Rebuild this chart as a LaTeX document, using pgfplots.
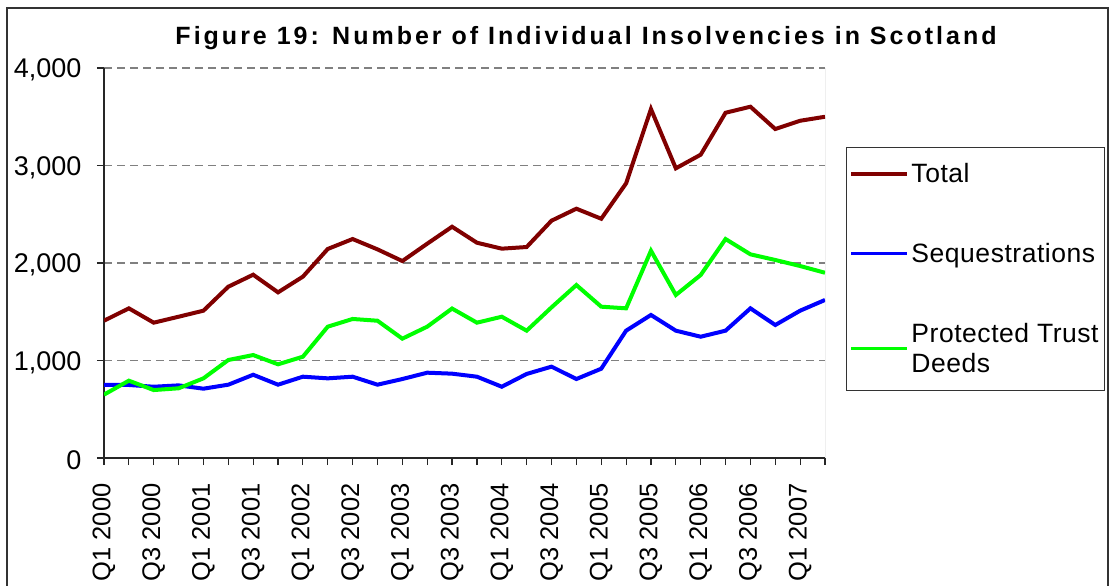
\documentclass[border=0pt]{standalone}
\usepackage{fontspec}
\setmainfont{Liberation Sans}
\newfontfamily\titlefont[LetterSpace=12]{Liberation Sans Bold}
\newfontfamily\legfont[LetterSpace=2]{Liberation Sans}
\usepackage{pgfplots}
\pgfplotsset{compat=1.18}
\definecolor{totred}{RGB}{128,0,0}
\definecolor{seqblue}{RGB}{0,0,255}
\definecolor{ptdgreen}{RGB}{0,255,0}
\definecolor{gridgray}{RGB}{128,128,128}
\begin{document}
\begin{tikzpicture}[x=1pt,y=1pt]
\useasboundingbox (0pt,0pt) rectangle (1111pt,-586pt);
\clip (0pt,0pt) rectangle (1111pt,-586pt);
\draw[line width=1.5pt, black!80] (7pt,-8pt) rectangle (1108pt,-620pt);
\node[anchor=base, inner sep=0pt] at (586pt,-44.5pt) {\fontsize{25}{29}\selectfont\titlefont Figure 19: Number of Individual Insolvencies in Scotland};
\begin{axis}[
  at={(104pt,-458pt)}, anchor=south west,
  scale only axis, width=721pt, height=390pt,
  xmin=0, xmax=29, ymin=0, ymax=4000,
  axis x line*=bottom, axis y line*=left,
  axis line style={-, line width=1.5pt, black!85},
  tick align=outside, major tick length=7pt,
  tick style={line width=1.2pt, black!85},
  xtick={0,...,29},
  xticklabels={Q1 2000,,Q3 2000,,Q1 2001,,Q3 2001,,Q1 2002,,Q3 2002,,Q1 2003,,Q3 2003,,Q1 2004,,Q3 2004,,Q1 2005,,Q3 2005,,Q1 2006,,Q3 2006,,Q1 2007,},
  xticklabel style={rotate=90, anchor=east, font=\fontsize{25.5}{30}\selectfont, xshift=-15pt},
  ytick={0,1000,2000,3000,4000},
  yticklabels={0,{1,000},{2,000},{3,000},{4,000}},
  yticklabel style={font=\fontsize{27}{32}\selectfont, anchor=east, xshift=-12pt, yshift=-2pt},
  ymajorgrids,
  grid style={dash pattern=on 8pt off 5pt, line width=1.5pt, gridgray},
  legend style={at={(1.0291,0.7974)}, anchor=north west, draw=black!80, line width=1pt,
    font=\fontsize{26.5}{30.5}\selectfont\legfont, row sep=54pt, inner xsep=3pt, inner ysep=13.5pt,
    cells={align=left}, nodes={inner sep=2.5pt}},
  legend cell align=left,
  legend image code/.code={\draw[#1, line width=3.5pt] (0pt,0pt) -- (56pt,0pt);},
]
\addplot[totred, line width=4pt] coordinates {
(0,1408)(1,1535)(2,1388)(3,1449)(4,1511)(5,1757)(6,1880)(7,1699)(8,1860)(9,2144)
(10,2246)(11,2140)(12,2020)(13,2198)(14,2372)(15,2208)(16,2147)(17,2164)(18,2434)(19,2557)
(20,2454)(21,2817)(22,3579)(23,2971)(24,3111)(25,3541)(26,3603)(27,3374)(28,3459)(29,3500)};
\addlegendentry{Total}
\addplot[seqblue, line width=4pt] coordinates {
(0,749)(1,749)(2,731)(3,745)(4,711)(5,752)(6,854)(7,752)(8,834)(9,817)
(10,834)(11,752)(12,810)(13,875)(14,865)(15,834)(16,731)(17,862)(18,937)(19,810)
(20,916)(21,1306)(22,1467)(23,1306)(24,1244)(25,1306)(26,1535)(27,1364)(28,1511)(29,1621)};
\addlegendentry{Sequestrations}
\addplot[ptdgreen, line width=4pt] coordinates {
(0,650)(1,793)(2,697)(3,715)(4,817)(5,1005)(6,1056)(7,961)(8,1039)(9,1347)
(10,1426)(11,1408)(12,1224)(13,1347)(14,1533)(15,1388)(16,1449)(17,1306)(18,1545)(19,1774)
(20,1552)(21,1535)(22,2126)(23,1672)(24,1877)(25,2246)(26,2089)(27,2031)(28,1969)(29,1900)};
\addlegendentry{Protected Trust\\Deeds}
\draw[line width=1pt, gridgray] (rel axis cs:1,0) -- (rel axis cs:1,1);
\end{axis}
\end{tikzpicture}
\end{document}
